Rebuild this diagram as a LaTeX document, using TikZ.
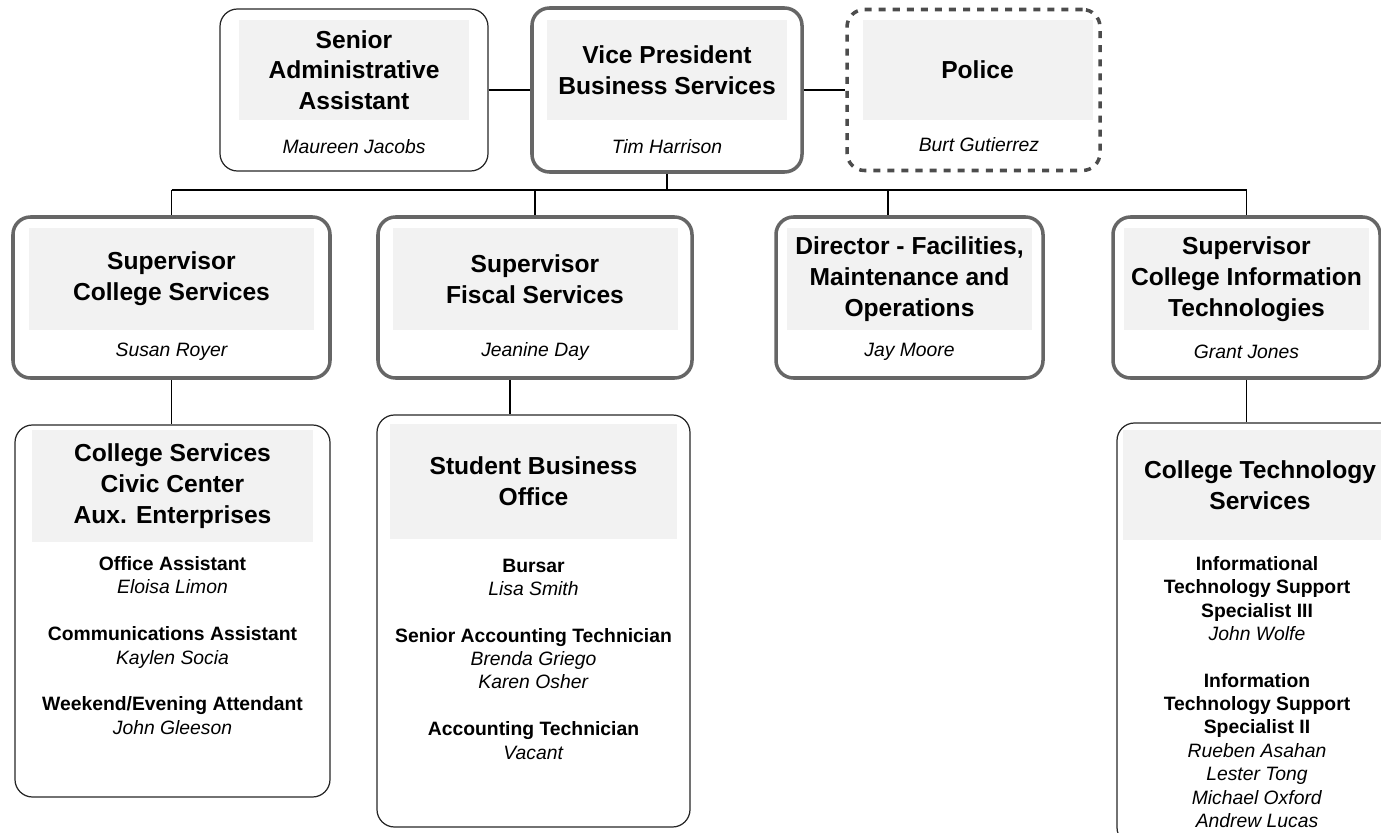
\documentclass[tikz,border=0pt]{standalone}
\usepackage{fontspec}
\setmainfont{Liberation Sans}
\newcommand{\hdfont}{\fontsize{14}{17.5}\selectfont\bfseries}
\newcommand{\smfont}{\fontsize{11}{13.3}\selectfont}

\begin{document}
\begin{tikzpicture}[semithick,
    box/.style={draw=black!85, line width=0.7pt, rounded corners=0.35cm, inner sep=0pt},
    bigbox/.style={box, draw=black!60, line width=2pt},
    policebox/.style={bigbox, draw=black!70, dash pattern=on 4pt off 4pt},
    head/.style={fill=black!5, font=\hdfont, align=center, inner sep=2pt},
    who/.style={font=\smfont\itshape},
    staff/.style={font=\smfont, align=center},
    link/.style={line width=0.8pt}]

    \useasboundingbox (0,0) rectangle (27.62,-16.66);

    % Top row
    \node[box, minimum width=5.36cm, minimum height=3.24cm] (sa) at (7.08,-1.80) {};
    \node[bigbox, minimum width=5.40cm, minimum height=3.28cm] (vp) at (13.34,-1.80) {};
    \node[policebox, minimum width=5.06cm, minimum height=3.22cm] (pol) at (19.47,-1.80) {};

    \node[head, minimum width=4.6cm, minimum height=2.0cm] (saT) at (7.08,-1.40) {Senior\\Administrative\\Assistant};
    \node[head, minimum width=4.8cm, minimum height=2.0cm] (vpT) at (13.34,-1.40) {Vice President\\Business Services};
    \node[head, minimum width=4.6cm, minimum height=2.0cm] (polT) at (19.55,-1.40) {Police};

    \node[who] (saN) at (7.08,-2.94) {Maureen Jacobs};
    \node[who] (vpN) at (13.34,-2.94) {Tim Harrison};
    \node[who] (polN) at (19.58,-2.90) {Burt Gutierrez};

    % Supervisors
    \node[bigbox, minimum width=6.34cm, minimum height=3.22cm] (scs) at (3.43,-5.95) {};
    \node[bigbox, minimum width=6.28cm, minimum height=3.22cm] (sfs) at (10.70,-5.95) {};
    \node[bigbox, minimum width=5.34cm, minimum height=3.22cm] (dir) at (18.19,-5.95) {};
    \node[bigbox, minimum width=5.34cm, minimum height=3.22cm] (cit) at (24.93,-5.95) {};

    \node[head, minimum width=5.7cm, minimum height=2.05cm] (scsT) at (3.43,-5.58) {Supervisor\\College Services};
    \node[head, minimum width=5.7cm, minimum height=2.05cm] (sfsT) at (10.70,-5.58) {Supervisor\\Fiscal Services};
    \node[head, minimum width=4.9cm, minimum height=2.05cm] (dirT) at (18.19,-5.58) {Director - Facilities,\\Maintenance and\\Operations};
    \node[head, minimum width=4.9cm, minimum height=2.05cm] (citT) at (24.93,-5.58) {Supervisor\\College Information\\Technologies};

    \node[who] (scsN) at (3.43,-7.04) {Susan Royer};
    \node[who] (sfsN) at (10.70,-7.04) {Jeanine Day};
    \node[who] (dirN) at (18.19,-7.04) {Jay Moore};
    \node[who] (citN) at (24.93,-7.04) {Grant Jones};

    % Offices
    \node[box, minimum width=6.30cm, minimum height=7.44cm] (csc) at (3.45,-12.22) {};
    \node[box, minimum width=6.26cm, minimum height=8.24cm] (sbo) at (10.67,-12.42) {};
    \node[box, minimum width=5.66cm, minimum height=8.44cm] (cts) at (25.17,-12.68) {};

    \node[head, minimum width=5.6cm, minimum height=2.25cm] (cscT) at (3.45,-9.72) {College Services\\Civic Center\\Aux. Enterprises};
    \node[head, minimum width=5.75cm, minimum height=2.3cm] (sboT) at (10.67,-9.62) {Student Business\\Office};
    \node[head, minimum width=5.5cm, minimum height=2.2cm] (ctsT) at (25.20,-9.70) {College Technology\\Services};

    \node[staff] (cscS) at (3.45,-12.91) {\textbf{Office Assistant}\\\textit{Eloisa Limon}\\[13.3pt]
        \textbf{Communications Assistant}\\\textit{Kaylen Socia}\\[13.3pt]
        \textbf{Weekend/Evening Attendant}\\\textit{John Gleeson}};
    \node[staff] (sboS) at (10.67,-13.18) {\textbf{Bursar}\\\textit{Lisa Smith}\\[13.3pt]
        \textbf{Senior Accounting Technician}\\\textit{Brenda Griego}\\\textit{Karen Osher}\\[13.3pt]
        \textbf{Accounting Technician}\\\textit{Vacant}};
    \node[staff] (ctsS) at (25.14,-13.84) {\textbf{Informational}\\\textbf{Technology Support}\\\textbf{Specialist III}\\\textit{John Wolfe}\\[13.3pt]
        \textbf{Information}\\\textbf{Technology Support}\\\textbf{Specialist II}\\\textit{Rueben Asahan}\\\textit{Lester Tong}\\\textit{Michael Oxford}\\\textit{Andrew Lucas}};

    % Lines
    \coordinate (busL) at (3.43,-3.80);
    \coordinate (busR) at (24.93,-3.80);
    \coordinate (busD) at (17.76,-3.80);

    \draw[link] (sa.east) -- (vp.west);
    \draw[link] (vp.east) -- (pol.west);
    \draw[link] (vp.south) -- (vp.south |- busL);
    \draw[link] (busL) -- (busR);
    \draw[link] (busL) -- (scs.north);
    \draw[link] (sfs.north |- busL) -- (sfs.north);
    \draw[link] (busD) -- (busD |- dir.north);
    \draw[link] (busR) -- (cit.north);
    \draw[link] (scs.south) -- (scs.south |- csc.north);
    \draw[link] (sfs.-107) -- (sfs.-107 |- sbo.north);
    \draw[link] (cit.south) -- (cit.south |- cts.north);

\end{tikzpicture}
\end{document}
